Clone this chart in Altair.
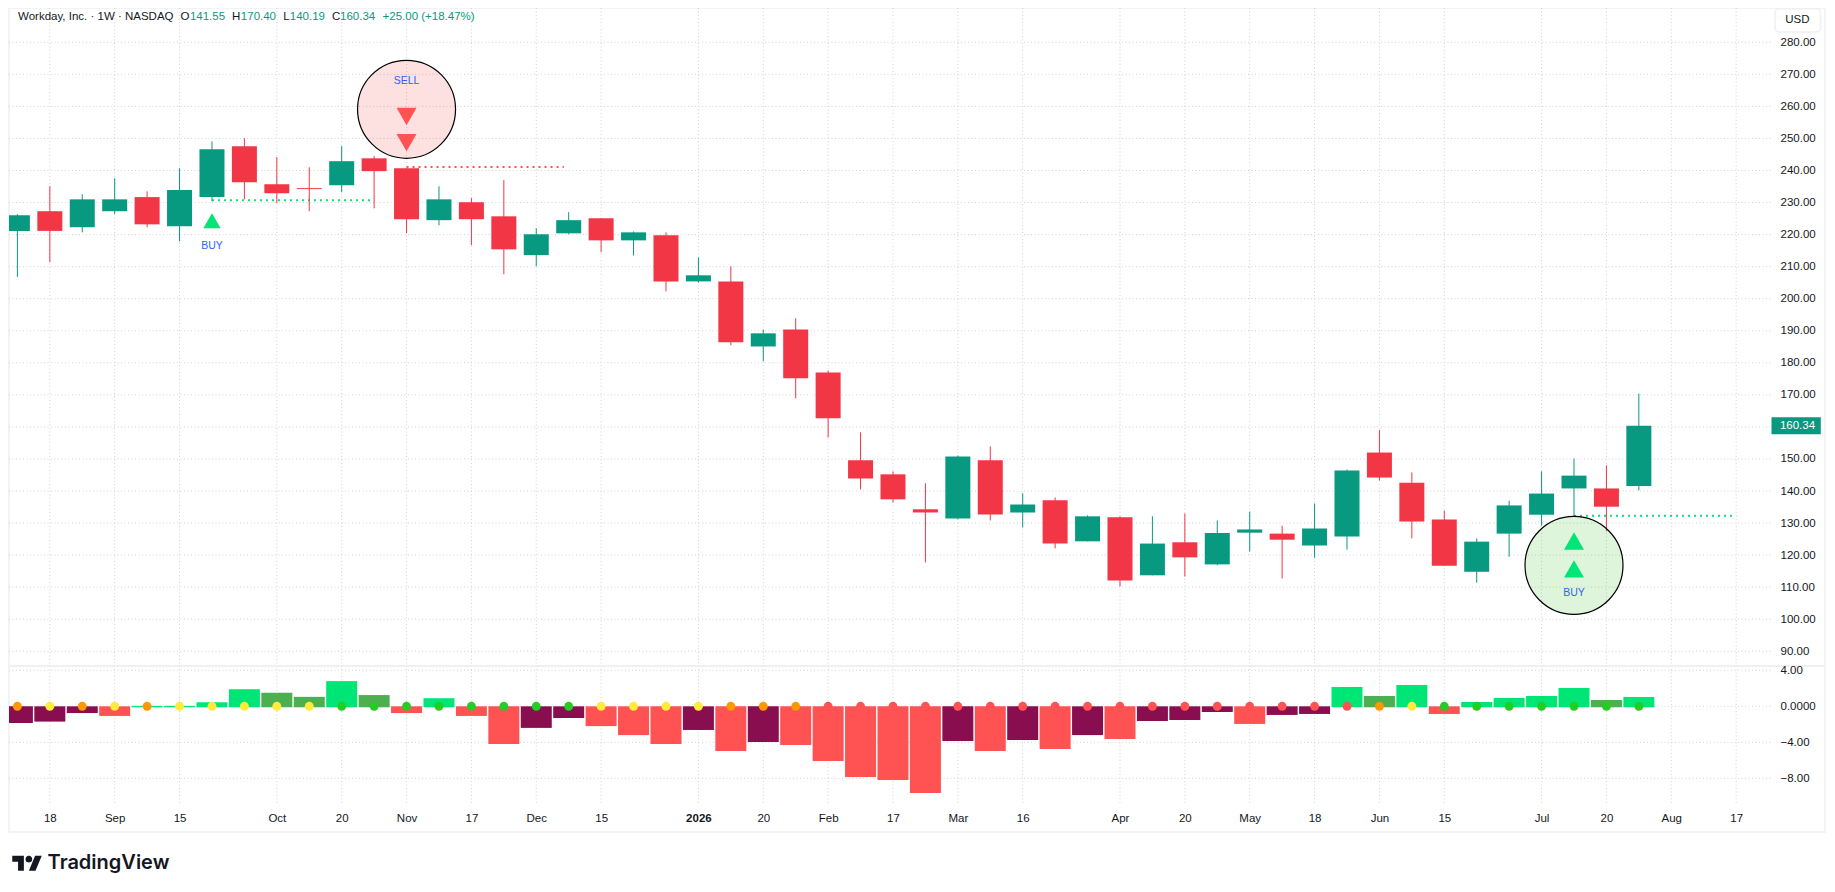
import json
import altair as alt
import pandas as pd

# ---- candles: open, high, low, close (week index = position in the list)
opens = [221.15, 227.3, 222.3, 227.3, 231.7, 222.6, 231.7, 247.6, 235.7, 234.5, 235.4, 243.8, 240.7,
         224.5, 230.1, 225.7, 213.6, 220.4, 225.1, 218.2, 219.8, 205.4, 205.4, 185.1, 190.4, 177.0,
         149.6, 145.2, 134.3, 131.4, 149.6, 133.3, 137.1, 124.3, 131.8, 113.7, 124.0, 117.1, 127.0,
         126.7, 123.0, 125.8, 152.0, 142.6, 131.1, 114.8, 126.7, 132.6, 140.8, 140.8, 141.55]
highs = [226.4, 235.1, 232.6, 237.6, 233.5, 240.7, 249.1, 250.1, 244.2, 241.0, 247.6, 244.5, 240.8,
         235.1, 231.4, 237.0, 222.0, 227.0, 225.1, 221.0, 220.7, 212.9, 210.1, 190.4, 193.9, 177.6,
         158.3, 146.1, 142.4, 151.1, 153.9, 139.3, 138.0, 132.4, 132.1, 132.1, 133.0, 130.8, 133.6,
         129.2, 136.1, 146.7, 159.0, 145.8, 133.9, 125.2, 137.0, 146.1, 150.1, 148.0, 170.40]
lows = [206.8, 211.4, 220.7, 226.4, 222.3, 217.9, 230.4, 231.0, 229.8, 227.3, 233.2, 228.2, 220.4,
        222.9, 216.7, 207.6, 210.1, 220.1, 214.5, 213.5, 202.3, 205.0, 185.5, 180.5, 168.9, 156.7,
        140.5, 136.4, 117.7, 131.2, 130.8, 128.6, 122.1, 124.3, 110.2, 113.7, 113.3, 116.8, 121.1,
        112.7, 119.2, 121.7, 143.3, 125.2, 116.7, 111.4, 119.5, 129.2, 132.0, 127.4, 140.19]
closes = [226.05, 221.15, 231.0, 231.0, 223.2, 233.9, 246.6, 236.3, 232.9, 234.2, 242.9, 239.8, 224.8,
          231.0, 224.8, 215.4, 220.1, 224.5, 218.2, 220.7, 205.4, 207.3, 186.4, 189.2, 175.2, 162.7,
          143.9, 137.4, 133.3, 150.8, 132.7, 135.8, 123.6, 132.1, 112.1, 123.6, 119.3, 126.9, 128.0,
          124.8, 128.3, 146.4, 144.2, 130.5, 116.7, 124.2, 135.5, 139.2, 144.8, 135.1, 160.34]

# ---- squeeze-momentum histogram and its zero-line dots
hist = [-1.85, -1.7, -0.75, -1.07, 0.05, 0.05, 0.45, 1.9, 1.5, 1.05, 2.8, 1.25, -0.75, 0.9, -1.07,
        -4.2, -2.4, -1.3, -2.2, -3.2, -4.2, -2.63, -4.96, -3.96, -4.3, -6.07, -7.85, -8.18, -9.63,
        -3.85, -4.96, -3.74, -4.74, -3.2, -3.63, -1.63, -1.52, -0.63, -1.96, -0.96, -0.85, 2.15,
        1.15, 2.37, -0.85, 0.48, 0.93, 1.15, 2.04, 0.7, 1.04]
hist_state = list("mmmrssssww" "sw" "rsr" "rmmr" "rrm" "rmr" "rrrr" "m" "r" "m" "r" "m" "r" "mmm" "r" "mm"
                  "s" "w" "s" "r" "ssss" "w" "s")
dot_state = list("OYOYOY" "YYYY" "GGGGGGGG" "YYYY" "OOO" "RRRRRRRRRRRRRRRRR" "O" "Y" "GGGGGGG")

# ---- axis ticks
tick_weeks = [1, 3, 5, 8, 10, 12, 14, 16, 18, 21, 23, 25, 27, 29, 31, 34, 36, 38, 40, 42, 44, 47, 49, 51, 53]
tick_names = ["18", "Sep", "15", "Oct", "20", "Nov", "17", "Dec", "15", "2026", "20", "Feb", "17", "Mar",
              "16", "Apr", "20", "May", "18", "Jun", "15", "Jul", "20", "Aug", "17"]
price_ticks = list(range(90, 290, 10))
osc_ticks = [4, 0, -4, -8]
osc_names = ["4.00", "0.0000", "\u22124.00", "\u22128.00"]

# ---- signal annotations
levels_week = [(6, 11), (12, 16.85), (48, 53)]
levels_price = [230.7, 241.1, 132.3]
levels_color = ["#00E676", "#FF5252", "#00E676"]

DARK = "#131722"
UP = "#089981"
DOWN = "#F23645"
BLUE = "#2962FF"
GRID = "#cfd2d8"
FRAME = "#eef0f3"
FONT = "Liberation Sans"

X_DOM = [-0.259, 55.74]
P_DOM = [85.4, 290.7]
O_DOM = [-13.97, 4.48]
AXIS_END = 54.07

X_SCALE = alt.Scale(domain=X_DOM, nice=False, zero=False, padding=0)
P_AXIS = alt.Axis(orient="right", values=price_ticks, offset=-45, domain=False, ticks=False, grid=False, labelPadding=0,
                  format=".2f", labelAlign="left", labelOverlap=False, labelFlush=False)
O_AXIS = alt.Axis(orient="right", values=osc_ticks, labelExpr=json.dumps(dict(zip(map(str, osc_ticks), osc_names)), ensure_ascii=False)
                  + "[datum.value]", offset=-45, domain=False, ticks=False, grid=False, labelPadding=0,
                  labelAlign="left", labelOverlap=False, labelFlush=False)
W_AXIS = alt.Axis(values=tick_weeks,
                  labelExpr=json.dumps(dict(zip(map(str, tick_weeks), tick_names)), ensure_ascii=False) + "[datum.value]",
                  offset=-29, domain=False, ticks=False, grid=False, labelPadding=9.5, labelOverlap=False,
                  labelFlush=False, labelFontWeight=alt.expr("datum.value == 21 ? 'bold' : 'normal'"))


def Xt(f="x"):
    return alt.X(f"{f}:Q", scale=X_SCALE, title=None, axis=None)


def Xb(f="x"):
    return alt.X(f"{f}:Q", scale=X_SCALE, title=None, axis=W_AXIS)


def Yp(f="y"):
    return alt.Y(f"{f}:Q", scale=alt.Scale(domain=P_DOM, nice=False, zero=False), title=None, axis=P_AXIS)


def Yo(f="y"):
    return alt.Y(f"{f}:Q", scale=alt.Scale(domain=O_DOM, nice=False, zero=False), title=None, axis=O_AXIS)


grid_style = dict(stroke=GRID, strokeWidth=1, strokeDash=[1, 2.5])
n = len(opens)
candles = pd.DataFrame({
    "x": range(n), "o": opens, "h": highs, "l": lows, "c": closes,
    "col": [UP if c >= o else DOWN for o, c in zip(opens, closes)],
})
vgrid = pd.DataFrame({"x": tick_weeks, "y": [O_DOM[0] + 3.23] * len(tick_weeks), "y2": [O_DOM[1]] * len(tick_weeks)})
pgrid = pd.DataFrame({"y": price_ticks, "x": [X_DOM[0]] * len(price_ticks), "x2": [AXIS_END] * len(price_ticks)})
ogrid = pd.DataFrame({"y": osc_ticks, "x": [X_DOM[0]] * len(osc_ticks), "x2": [AXIS_END] * len(osc_ticks)})
levels = pd.DataFrame({"x": [a for a, _ in levels_week], "x2": [b for _, b in levels_week],
                       "y": levels_price, "col": levels_color})

header = pd.DataFrame([
    dict(x=0.02, t="Workday, Inc. \u00b7 1W \u00b7 NASDAQ", col=DARK),
    dict(x=5.03, t="O", col=DARK), dict(x=5.32, t="141.55", col=UP),
    dict(x=6.62, t="H", col=DARK), dict(x=6.89, t="170.40", col=UP),
    dict(x=8.20, t="L", col=DARK), dict(x=8.40, t="140.19", col=UP),
    dict(x=9.70, t="C", col=DARK), dict(x=9.95, t="160.34", col=UP),
    dict(x=11.26, t="+25.00 (+18.47%)", col=UP),
]).assign(y=287.9)

top = alt.layer(
    alt.Chart(pd.DataFrame({"x": tick_weeks})).mark_rule(**grid_style).encode(x=Xt()),
    alt.Chart(pgrid).mark_rule(**grid_style).encode(x=Xt(), x2="x2:Q", y=Yp()),
    alt.Chart(header).mark_text(align="left", baseline="middle", font=FONT, fontSize=11.5).encode(
        x=Xt(), y=Yp(), text="t:N", color=alt.Color("col:N", scale=None)),
    alt.Chart(levels).mark_rule(strokeWidth=2, strokeDash=[2, 4]).encode(
        x=Xt(), x2="x2:Q", y=Yp(), color=alt.Color("col:N", scale=None)),
    alt.Chart(candles).mark_rule(strokeWidth=1, clip=True).encode(
        x=Xt(), y=Yp("l"), y2="h:Q", color=alt.Color("col:N", scale=None)),
    alt.Chart(candles).mark_bar(size=25, clip=True, orient="vertical").encode(
        x=Xt(), y=Yp("o"), y2="c:Q", color=alt.Color("col:N", scale=None)),
    alt.Chart(pd.DataFrame({"x": [12, 48], "y": [259.1, 116.8], "col": ["#F45353", "#48C83C"]})).mark_point(
        shape="circle", size=9604, filled=True, fillOpacity=0.18, stroke="#000000", strokeWidth=1.2,
        strokeOpacity=1).encode(x=Xt(), y=Yp(), fill=alt.Fill("col:N", scale=None)),
    alt.Chart(pd.DataFrame({"x": [12, 12], "y": [256.85, 248.7]})).mark_point(
        shape="triangle-down", size=400, filled=True, fill="#FF5252", fillOpacity=1, strokeWidth=0).encode(x=Xt(), y=Yp()),
    alt.Chart(pd.DataFrame({"x": [48, 48], "y": [124.4, 115.7]})).mark_point(
        shape="triangle-up", size=400, filled=True, fill="#00E676", fillOpacity=1, strokeWidth=0).encode(x=Xt(), y=Yp()),
    alt.Chart(pd.DataFrame({"x": [6], "y": [224.3]})).mark_point(
        shape="triangle-up", size=300, filled=True, fill="#00E676", fillOpacity=1, strokeWidth=0).encode(x=Xt(), y=Yp()),
    alt.Chart(pd.DataFrame({"x": [12, 6, 48], "y": [268.0, 216.4, 108.3], "t": ["SELL", "BUY", "BUY"]})).mark_text(
        font=FONT, fontSize=10.5, color=BLUE, baseline="middle").encode(x=Xt(), y=Yp(), text="t:N"),
    alt.Chart(pd.DataFrame({"x": [54.09], "x2": [55.61], "y": [157.69], "y2": [162.99]})).mark_rect(color=UP).encode(
        x=Xt(), x2="x2:Q", y=Yp(), y2="y2:Q"),
    alt.Chart(pd.DataFrame({"x": [54.35], "y": [160.34], "t": ["160.34"]})).mark_text(
        align="left", baseline="middle", font=FONT, fontSize=11.5, color="#ffffff").encode(x=Xt(), y=Yp(), text="t:N"),
    alt.Chart(pd.DataFrame({"x": [54.2], "x2": [55.6], "y": [283.2], "y2": [290.5]})).mark_rect(
        fill="#ffffff", stroke="#eef0f3", strokeWidth=1.5, cornerRadius=4).encode(x=Xt(), x2="x2:Q", y=Yp(), y2="y2:Q"),
    alt.Chart(pd.DataFrame({"x": [54.89], "y": [287.1], "t": ["USD"]})).mark_text(
        baseline="middle", font=FONT, fontSize=11.5, color=DARK).encode(x=Xt(), y=Yp(), text="t:N"),
).properties(width=1816, height=658)

osc = pd.DataFrame({"x": range(n), "y": hist, "s": hist_state,
                    "y2": [-0.11 if v > 0 else 0 for v in hist], "d": dot_state, "z": [0] * n})
logo_path = ("M-0.2113,0.5070H-0.6056V-0.1127H-1V-0.5070H-0.2113Z"
             "M0.5775,0.5070H0.1268L0.5493,-0.5070H1L0.5775,0.5070Z"
             "M-0.0986,-0.2817A0.2254,0.2254 0 1 0 0.3521,-0.2817A0.2254,0.2254 0 1 0 -0.0986,-0.2817Z")

bottom = alt.layer(
    alt.Chart(vgrid).mark_rule(**grid_style).encode(x=Xb(), y=Yo(), y2="y2:Q"),
    alt.Chart(ogrid).mark_rule(**grid_style).encode(x=Xb(), x2="x2:Q", y=Yo()),
    alt.Chart(osc).mark_bar(size=31, clip=True, orient="vertical").encode(
        x=Xb(), y=Yo(), y2="y2:Q",
        color=alt.Color("s:N", legend=None,
                        scale=alt.Scale(domain=["s", "w", "r", "m"],
                                        range=["#00E676", "#4CAF50", "#FF5252", "#880E4F"]))),
    alt.Chart(osc).mark_circle(size=80, opacity=1, clip=True).encode(
        x=Xb(), y=Yo("z"),
        fill=alt.Fill("d:N", legend=None,
                      scale=alt.Scale(domain=["O", "Y", "G", "R"],
                                      range=["#FF9800", "#FFEB3B", "#26CC26", "#FF5252"]))),
    alt.Chart(pd.DataFrame({"x": [0.296], "y": [-17.45]})).mark_point(
        shape=logo_path, size=870, filled=True, fill="#131722", fillOpacity=1, strokeWidth=0).encode(x=Xb(), y=Yo()),
    alt.Chart(pd.DataFrame({"x": [0.93], "y": [-17.45], "t": ["TradingView"]})).mark_text(
        align="left", baseline="middle", font="Inter", fontSize=20, fontWeight=600, color="#131722").encode(
        x=Xb(), y=Yo(), text="t:N"),
).resolve_scale(color="independent").properties(width=1816, height=166)

chart = (
    alt.vconcat(top, bottom, spacing=0, bounds="flush")
    .properties(padding={"left": -1, "top": -2, "right": 0, "bottom": 0}, background="#ffffff")
    .configure_view(stroke=FRAME, strokeWidth=1.5)
    .configure_axis(labelFont=FONT, labelFontSize=11.5, labelColor=DARK)
)
chart.save("out.html", embed_options={"renderer": "svg", "actions": False})
